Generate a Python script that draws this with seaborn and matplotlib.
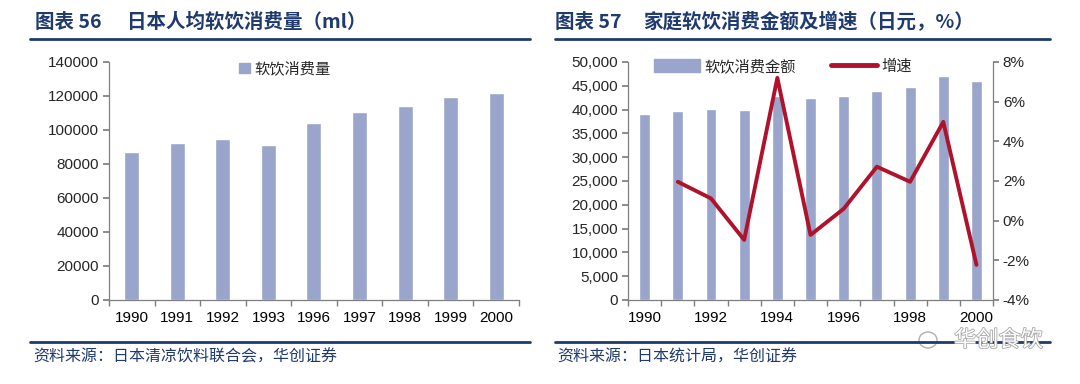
import numpy as np
import pandas as pd
import matplotlib
matplotlib.use("Agg")
import matplotlib.pyplot as plt
import matplotlib.patheffects as pe
import seaborn as sns
from matplotlib.patches import Patch, Ellipse
from matplotlib.lines import Line2D

# left chart: per-capita soft drink consumption (ml)
years_left = ["1990", "1991", "1992", "1993", "1996", "1997", "1998", "1999", "2000"]
volume_ml = [86800, 92100, 94700, 91300, 104300, 110500, 114300, 119500, 121900]

# right chart: household spending (yen) and growth (%)
years_right = ["1990", "1991", "1992", "1993", "1994", "1995", "1996", "1997", "1998", "1999", "2000"]
spend_yen = [39000, 39700, 40200, 39900, 42800, 42400, 42800, 43900, 44800, 47100, 46000]
growth_pct = [np.nan, 1.96, 1.12, -0.97, 7.2, -0.72, 0.6, 2.72, 1.96, 4.98, -2.23]

BAR = "#9aa5cc"
LINE = "#b0122c"
NAVY = "#1f3a6e"
AXC = "#7f7f7f"
CJK = ["Noto Sans CJK SC", "DejaVu Sans"]

sns.set_theme(style="white")
plt.rcParams["font.family"] = ["Liberation Sans", "Noto Sans CJK SC"]

fig = plt.figure(figsize=(10.8, 3.84), dpi=100)

def style_axes(ax, n):
    for s in ["top", "right"]:
        ax.spines[s].set_visible(False)
    for s in ["left", "bottom"]:
        ax.spines[s].set_color(AXC)
        ax.spines[s].set_linewidth(0.9)
    ax.set_xlim(-0.5, n - 0.5)
    ax.set_xticks(np.arange(-0.5, n), minor=True)
    ax.tick_params(axis="x", which="major", length=0, pad=8, labelsize=11, colors="black")
    ax.tick_params(axis="x", which="minor", length=4, color=AXC, direction="out", bottom=True)
    ax.tick_params(axis="y", length=4, color=AXC, direction="out", left=True, labelsize=11, pad=3)
    ax.set_xlabel("")
    ax.set_ylabel("")

# ---- left chart
ax1 = fig.add_axes([0.1009, 0.2188, 0.3796, 0.6198])
df1 = pd.DataFrame({"year": years_left, "vol": volume_ml})
sns.barplot(data=df1, x="year", y="vol", color=BAR, saturation=1, width=0.33, ax=ax1)
ax1.set_ylim(0, 140000)
ax1.set_yticks(np.arange(0, 140001, 20000))
style_axes(ax1, len(years_left))
ax1.legend(handles=[Patch(color=BAR, label="软饮消费量")], loc="upper center",
           bbox_to_anchor=(0.43, 1.06), frameon=False, fontsize=11,
           handlelength=0.7, handleheight=0.7, handletextpad=0.3)

# ---- right chart
ax2 = fig.add_axes([0.5815, 0.2188, 0.338, 0.6198])
df2 = pd.DataFrame({"year": years_right, "spend": spend_yen, "growth": growth_pct})
df2["pos"] = np.arange(len(df2))
sns.barplot(data=df2, x="year", y="spend", color=BAR, saturation=1, width=0.33, ax=ax2)
ax2.set_ylim(0, 50000)
ax2.set_yticks(np.arange(0, 50001, 5000))
ax2.set_yticklabels([f"{v:,}" for v in range(0, 50001, 5000)])
style_axes(ax2, len(years_right))
ax2.set_xticks(range(len(years_right)))
ax2.set_xticklabels([y if i % 2 == 0 else "" for i, y in enumerate(years_right)])

ax3 = ax2.twinx()
sns.lineplot(data=df2.dropna(), x="pos", y="growth", color=LINE, linewidth=2.8, ax=ax3)
ax3.set_ylim(-4, 8)
ax3.set_yticks(np.arange(-4, 9, 2))
ax3.set_yticklabels([f"{v}%" for v in range(-4, 9, 2)])
ax3.set_xlim(-0.5, len(years_right) - 0.5)
ax3.set_ylabel("")
for s in ["top", "left", "bottom"]:
    ax3.spines[s].set_visible(False)
ax3.spines["right"].set_color(AXC)
ax3.spines["right"].set_linewidth(0.9)
ax3.tick_params(axis="y", length=4, color=AXC, direction="out", right=True, labelsize=11, pad=3)

ax3.legend(handles=[Patch(color=BAR, label="软饮消费金额"),
                    Line2D([0], [0], color=LINE, linewidth=3.5, label="增速")],
           loc="upper center", bbox_to_anchor=(0.425, 1.07), ncol=2, frameon=False,
           fontsize=11, handlelength=3.0, handleheight=0.9, handletextpad=0.3,
           columnspacing=2.3)

# ---- titles, rules and footers
tkw = dict(fontsize=14, fontweight="bold", color=NAVY, va="center", family=CJK)
fig.text(35 / 1080, 1 - 22 / 384, "图表 56", **tkw)
fig.text(127 / 1080, 1 - 22 / 384, "日本人均软饮消费量（ml）", **tkw)
fig.text(555 / 1080, 1 - 22 / 384, "图表 57", **tkw)
fig.text(643 / 1080, 1 - 22 / 384, "家庭软饮消费金额及增速（日元，%）", **tkw)

for x0, x1 in [(30, 530), (555, 1050)]:
    fig.add_artist(Line2D([x0 / 1080, x1 / 1080], [1 - 39 / 384] * 2, color=NAVY, linewidth=2))
    fig.add_artist(Line2D([x0 / 1080, x1 / 1080], [1 - 342 / 384] * 2, color=NAVY, linewidth=2))

fkw = dict(fontsize=11.5, color=NAVY, va="center", style="italic", family=CJK)
fig.text(33 / 1080, 1 - 357 / 384, "资料来源：日本清凉饮料联合会，华创证券", **fkw)
fig.text(557 / 1080, 1 - 357 / 384, "资料来源：日本统计局，华创证券", **fkw)

# watermark
fig.text(1043 / 1080, 1 - 340 / 384, "华创食饮", fontsize=16, color="white", ha="right",
         va="center", family=CJK,
         path_effects=[pe.withStroke(linewidth=1.2, foreground="#a8a8a8")])
fig.add_artist(Ellipse((928 / 1080, 1 - 340 / 384), 18 / 1080, 16 / 384,
                       facecolor="white", edgecolor="#b0b0b0", linewidth=1))

fig.savefig("out.png", dpi=100, facecolor="white")
